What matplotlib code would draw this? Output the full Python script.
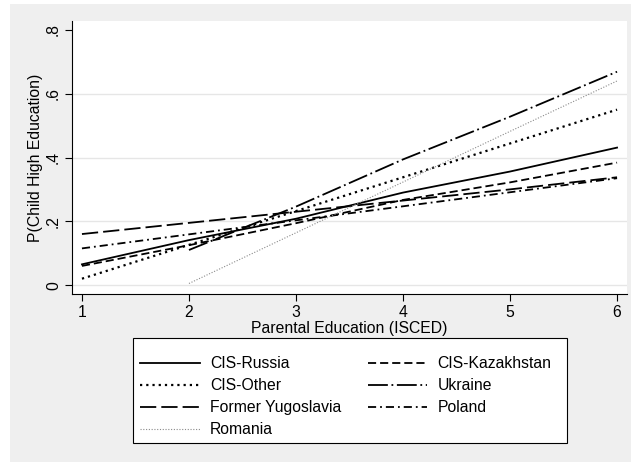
import numpy as np
import matplotlib.pyplot as plt
from matplotlib.patches import Rectangle

plt.rcParams['font.family'] = ['Liberation Sans', 'DejaVu Sans']

# ISCED levels and predicted probabilities
isced = [1, 2, 3, 4, 5, 6]
cis_russia = [0.065, 0.141, 0.208, 0.290, 0.356, 0.431]
cis_kazakhstan = [0.060, 0.125, 0.194, 0.267, 0.322, 0.384]
cis_other = [0.020, 0.126, 0.232, 0.338, 0.444, 0.550]
ukraine = [np.nan, 0.110, 0.246, 0.394, 0.528, 0.669]
yugoslavia = [0.160, 0.195, 0.230, 0.265, 0.300, 0.338]
poland = [0.115, 0.159, 0.203, 0.247, 0.291, 0.335]
romania = [np.nan, 0.005, 0.164, 0.323, 0.482, 0.640]

W, H = 631, 462
fs = 11.3
fig = plt.figure(figsize=(W / 100, H / 100), dpi=100, facecolor='white')
# stata grey background (picture is cropped, white edge at left/top)
fig.patches.append(Rectangle((10 / W, 0), 1, 1 - 4 / H, transform=fig.transFigure,
                             facecolor='#efefef', edgecolor='none', zorder=-10))
# legend box, drawn by hand so the padding can match stata's
fig.patches.append(Rectangle((133 / W, 1 - 443 / H), (567 - 133) / W, (443 - 338) / H,
                             transform=fig.transFigure, facecolor='white',
                             edgecolor='black', lw=0.8, zorder=-5))

ax = fig.add_axes([72 / W, 1 - 294 / H, (627 - 72) / W, (294 - 21) / H])
ax.set_facecolor('white')

lw = 1.3
l1, = ax.plot(isced, cis_russia, color='black', lw=lw, ls='-', label='CIS-Russia')
l2, = ax.plot(isced, cis_kazakhstan, color='black', lw=lw, dashes=(4.5, 2.2), label='CIS-Kazakhstan')
l3, = ax.plot(isced, cis_other, color='black', lw=lw + 0.3, dashes=(1, 1.8), label='CIS-Other')
l4, = ax.plot(isced, ukraine, color='black', lw=lw, dashes=(11, 2, 1, 2), label='Ukraine')
l5, = ax.plot(isced, yugoslavia, color='black', lw=lw, dashes=(9, 2.8), label='Former Yugoslavia')
l6, = ax.plot(isced, poland, color='black', lw=lw, dashes=(4.5, 2.2, 1, 2.2), label='Poland')
l7, = ax.plot(isced, romania, color='#8a8a8a', lw=0.8, dashes=(1, 1.5), label='Romania')

ax.set_xlim(0.907, 6.093)
ax.set_ylim(-0.028, 0.828)
ax.set_xticks(isced)
ax.set_yticks([0, 0.2, 0.4, 0.6, 0.8])
ax.set_yticklabels(['0', '.2', '.4', '.6', '.8'], rotation=90, va='center')
for g in [0, 0.2, 0.4, 0.6]:
    ax.axhline(g, color='#e6e6e6', lw=1, zorder=0)

for s in ['top', 'right']:
    ax.spines[s].set_visible(False)
ax.tick_params(direction='out', length=5, width=0.8, labelsize=fs, pad=3)

ax.set_xlabel('Parental Education (ISCED)', fontsize=fs, labelpad=1)
ax.set_ylabel('P(Child High Education)', fontsize=fs, labelpad=2)

# matplotlib fills legend columns first, so order for row-wise reading
handles = [l1, l3, l5, l7, l2, l4, l6]
leg = fig.legend(handles=handles, labels=[h.get_label() for h in handles],
                 loc='upper left', bbox_to_anchor=(133 / W, 1 - 349 / H), ncol=2,
                 fontsize=fs, frameon=False,
                 handlelength=3.8, handletextpad=0.65, columnspacing=1.7,
                 labelspacing=0.45, borderpad=0.45, borderaxespad=0)

fig.savefig('out.png', dpi=100, facecolor=fig.get_facecolor())
